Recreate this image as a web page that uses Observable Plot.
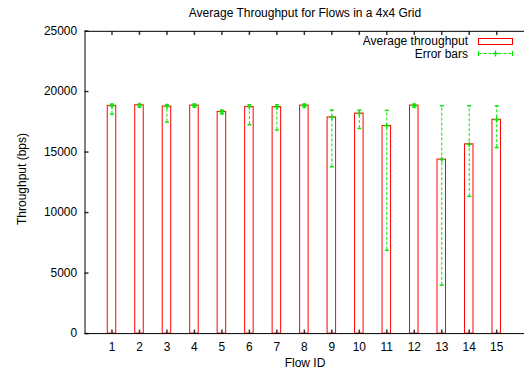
<!DOCTYPE html>
<html><head><meta charset="utf-8">
<script src="https://cdn.jsdelivr.net/npm/d3@7"></script>
<script src="https://cdn.jsdelivr.net/npm/@observablehq/plot@0.6"></script>
<style>
html,body{margin:0;padding:0;overflow:hidden;background:#fff;width:524px;height:376px}
#wrap{position:relative;width:524px;height:376px;overflow:hidden;font-family:"Liberation Sans",Arial,Helvetica,sans-serif;font-size:12px;color:#000}
.abs{position:absolute;white-space:nowrap;line-height:1}
#wrap > svg{position:absolute;left:0;top:0}
</style></head><body><div id="wrap"></div>
<script>
// ---- data ----
const flowIds = [1, 2, 3, 4, 5, 6, 7, 8, 9, 10, 11, 12, 13, 14, 15];
const avgThroughput = [18820, 18870, 18760, 18840, 18320, 18730, 18710, 18840, 17860, 18180, 17160, 18840, 14380, 15640, 17670];
const errLow  = [18130, 18720, 17480, 18720, 18160, 17260, 16820, 18720, 13780, 16950, 6890, 18720, 4000, 11340, 15370];
const errHigh = [18960, 18960, 18920, 18960, 18450, 18900, 18900, 18960, 18460, 18460, 18440, 18960, 18820, 18820, 18820];
const yTicks = [0, 5000, 10000, 15000, 20000, 25000];
const titleText = "Average Throughput for Flows in a 4x4 Grid";
const xLabel = "Flow ID";
const yLabel = "Throughput (bps)";
const legendLabels = ["Average throughput", "Error bars"];

const data = flowIds.map((id, i) => ({id, avg: avgThroughput[i], lo: errLow[i], hi: errHigh[i]}));
const xMin = 0, xMax = 16, yMin = 0, yMax = 25000;

const boxHalf = 0.155;
const green = "#00e800";
const hcap = {draw(ctx, size) { const r = Math.sqrt(size / Math.PI); ctx.moveTo(-r, 0); ctx.lineTo(r, 0); }};
const plus = {draw(ctx, size) { const r = Math.sqrt(size / Math.PI); ctx.moveTo(-r, 0); ctx.lineTo(r, 0); ctx.moveTo(0, -r); ctx.lineTo(0, r); }};
// one-sided tick symbols (length = r)
const tickUp = {draw(ctx, size) { const r = Math.sqrt(size / Math.PI); ctx.moveTo(0, 0); ctx.lineTo(0, -r); }};
const tickDown = {draw(ctx, size) { const r = Math.sqrt(size / Math.PI); ctx.moveTo(0, 0); ctx.lineTo(0, r); }};
const tickRight = {draw(ctx, size) { const r = Math.sqrt(size / Math.PI); ctx.moveTo(0, 0); ctx.lineTo(r, 0); }};
const fmt = d3.format("d");

const chart = Plot.plot({
  width: 527, height: 376,
  marginLeft: 85, marginRight: 0, marginTop: 31, marginBottom: 41,
  x: {domain: [xMin, xMax], range: [84.5, 526.7]},
  y: {domain: [yMin, yMax], range: [335, 30.7]},
  style: {fontFamily: '"Liberation Sans", Arial, Helvetica, sans-serif', fontSize: "12px", background: "white", color: "black"},
  marks: [
    Plot.rect(data, {x1: d => d.id - boxHalf, x2: d => d.id + boxHalf, y1: 0, y2: "avg", fill: "white", stroke: "#ff0000", strokeWidth: 1}),
    Plot.ruleX(data, {x: "id", y1: "lo", y2: "hi", stroke: green, strokeDasharray: "3,2"}),
    Plot.dot(data, {x: "id", y: "lo", symbol: hcap, r: 2, stroke: green, fill: "none"}),
    Plot.dot(data, {x: "id", y: "hi", symbol: hcap, r: 2, stroke: green, fill: "none"}),
    Plot.dot(data, {x: "id", y: "avg", symbol: plus, r: 2.7, stroke: green, fill: "none", strokeWidth: 1.3}),
    Plot.axisX(flowIds, {anchor: "bottom", tickSize: 0, tickPadding: 9, label: null, tickFormat: fmt}),
    Plot.axisY(yTicks, {anchor: "left", tickSize: 0, tickPadding: 8, label: null, tickFormat: fmt}),
    // inward ticks (gnuplot style), bottom/top mirrored and left
    Plot.dot(flowIds, {x: d => d, y: yMin, symbol: tickUp, r: 4, stroke: "#333", fill: "none"}),
    Plot.dot(flowIds, {x: d => d, y: yMax, symbol: tickDown, r: 4, stroke: "#333", fill: "none"}),
    Plot.dot(yTicks, {x: xMin, y: d => d, symbol: tickRight, r: 4, stroke: "#333", fill: "none"}),
    Plot.frame({stroke: "black"})
  ]
});

const wrap = document.getElementById("wrap");
wrap.appendChild(chart);

function addText(txt, css) {
  const d = document.createElement("div");
  d.className = "abs";
  d.textContent = txt;
  Object.assign(d.style, css);
  wrap.appendChild(d);
  return d;
}
addText(titleText, {left: "305px", top: "7px", transform: "translateX(-50%)"});
addText(xLabel, {left: "305px", top: "357px", transform: "translateX(-50%)"});
addText(yLabel, {left: "22px", top: "178.5px", transform: "translate(-50%,-50%) rotate(-90deg)"});
addText(legendLabels[0], {right: "56px", top: "35px"});
addText(legendLabels[1], {right: "56px", top: "47.5px"});

const ns = "http://www.w3.org/2000/svg";
const lg = document.createElementNS(ns, "svg");
lg.setAttribute("width", 44); lg.setAttribute("height", 28);
lg.style.position = "absolute"; lg.style.left = "476px"; lg.style.top = "34px";
lg.innerHTML = `
  <rect x="2.5" y="4.5" width="34" height="6" fill="white" stroke="#ff0000"/>
  <line x1="2.5" x2="36.5" y1="19.5" y2="19.5" stroke="${green}" stroke-dasharray="3,2"/>
  <line x1="2.5" x2="2.5" y1="17" y2="22" stroke="${green}"/>
  <line x1="36.5" x2="36.5" y1="17" y2="22" stroke="${green}"/>
  <path d="M16.5,19.5h6M19.5,16.5v6" stroke="${green}" stroke-width="1.3"/>`;
wrap.appendChild(lg);
</script></body></html>
